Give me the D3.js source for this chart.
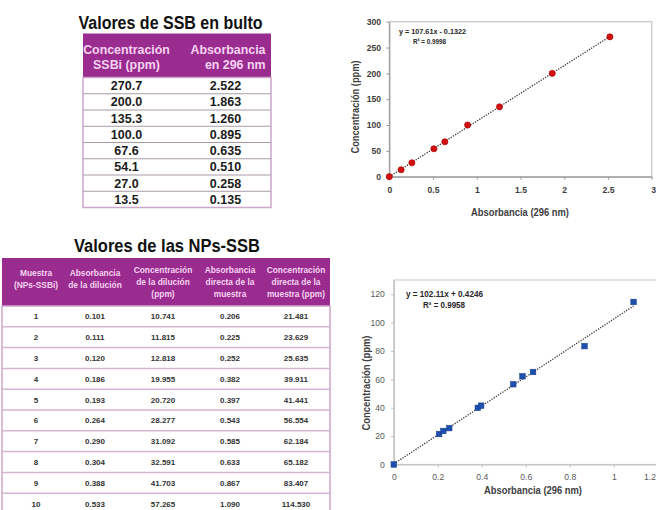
<!DOCTYPE html>
<html>
<head>
<meta charset="utf-8">
<script src="https://cdn.jsdelivr.net/npm/d3@7/dist/d3.min.js"></script>
<style>
  html, body { margin: 0; padding: 0; background: #ffffff; }
  svg { display: block; }
  text { font-family: "Liberation Sans", Arial, sans-serif; }
</style>
</head>
<body>
<svg id="fig" width="656" height="510"></svg>
<script>
// ---- Bulk SSB calibration standards ----
const ssbConc = [270.7, 200.0, 135.3, 100.0, 67.6, 54.1, 27.0, 13.5];
const ssbAbs  = [2.522, 1.863, 1.260, 0.895, 0.635, 0.510, 0.258, 0.135];
const ssbFit  = { slope: 107.61, intercept: -0.1322, r2: "0.9998", eq: "y = 107.61x - 0.1322" };

// ---- NPs-SSB samples ----
const npSample  = ["1", "2", "3", "4", "5", "6", "7", "8", "9", "10"];
const npDilAbs  = [0.101, 0.111, 0.120, 0.186, 0.193, 0.264, 0.290, 0.304, 0.388, 0.533];
const npDilConc = [10.741, 11.815, 12.818, 19.955, 20.720, 28.277, 31.092, 32.591, 41.703, 57.265];
const npDirAbs  = [0.206, 0.225, 0.252, 0.382, 0.397, 0.543, 0.585, 0.633, 0.867, 1.090];
const npDirConc = [21.481, 23.629, 25.635, 39.911, 41.441, 56.554, 62.184, 65.182, 83.407, 114.530];
const npFit     = { slope: 102.11, intercept: 0.4246, r2: "0.9958", eq: "y = 102.11x + 0.4246" };

// blank (origin) point plotted with each calibration set
const blankAbs = 0, blankConc = 0;

// axis ticks
const ssbXTicks = [0, 0.5, 1, 1.5, 2, 2.5, 3];
const ssbYTicks = [0, 50, 100, 150, 200, 250, 300];
const npXTicks  = [0, 0.2, 0.4, 0.6, 0.8, 1, 1.2];
const npYTicks  = [0, 20, 40, 60, 80, 100, 120];

const W = 656;
const svg = d3.select("#fig");
const PURPLE = "#9a2b8f";
const HEAD_TXT = "#f6d3f1";
const LAV = "#cfa6cb";

// ================= Table 1: Valores de SSB en bulto =================
(function () {
  const g = svg.append("g");
  const x0 = 83, x1 = 271, top = 33.5, headB = 77.5, rowH = 16.25;
  g.append("text").attr("x", 170.5).attr("y", 28.5).attr("text-anchor", "middle")
    .attr("font-size", 17.5).attr("font-weight", "bold").attr("fill", "#111")
    .attr("textLength", 184).attr("lengthAdjust", "spacingAndGlyphs")
    .text("Valores de SSB en bulto");
  g.append("rect").attr("x", x0).attr("y", top).attr("width", x1 - x0).attr("height", headB - top)
    .attr("fill", PURPLE);
  const head = [
    { x: 126.5, anchor: "middle", lines: ["Concentración", "SSBi (ppm)"] },
    { x: 265.5, anchor: "end", lines: ["Absorbancia", "en 296 nm"] }
  ];
  head.forEach(h => {
    h.lines.forEach((l, i) => {
      g.append("text").attr("x", h.x).attr("y", 53.5 + i * 15).attr("text-anchor", h.anchor)
        .attr("font-size", 12.4).attr("font-weight", "bold").attr("fill", HEAD_TXT).text(l);
    });
  });
  const rows = ssbConc.map((c, i) => ({ c, a: ssbAbs[i] }));
  const bottom = headB + rows.length * rowH;
  g.append("rect").attr("x", x0).attr("y", headB).attr("width", x1 - x0).attr("height", bottom - headB)
    .attr("fill", "#fff").attr("stroke", LAV).attr("stroke-width", 1.5);
  g.selectAll("line.sep").data(d3.range(1, rows.length)).join("line")
    .attr("x1", x0).attr("x2", x1)
    .attr("y1", i => headB + i * rowH).attr("y2", i => headB + i * rowH)
    .attr("stroke", "#a99aa8").attr("stroke-width", 1);
  const r = g.selectAll("g.row").data(rows).join("g")
    .attr("transform", (d, i) => `translate(0,${headB + i * rowH + rowH / 2 + 4.4})`);
  r.append("text").attr("x", 126.5).attr("text-anchor", "middle").attr("font-size", 12.5)
    .attr("font-weight", "bold").attr("fill", "#1b1b1b").text(d => d.c.toFixed(1));
  r.append("text").attr("x", 225.5).attr("text-anchor", "middle").attr("font-size", 12.5)
    .attr("font-weight", "bold").attr("fill", "#1b1b1b").text(d => d.a.toFixed(3));
})();

// ================= Table 2: Valores de las NPs-SSB =================
(function () {
  const g = svg.append("g");
  const x0 = 2, x1 = 330, top = 258, headB = 306, rowH = 20.8;
  g.append("text").attr("x", 167).attr("y", 252).attr("text-anchor", "middle")
    .attr("font-size", 17.5).attr("font-weight", "bold").attr("fill", "#111")
    .attr("textLength", 186).attr("lengthAdjust", "spacingAndGlyphs")
    .text("Valores de las NPs-SSB");
  g.append("rect").attr("x", x0).attr("y", top).attr("width", x1 - x0).attr("height", headB - top)
    .attr("fill", PURPLE);
  const cols = [36, 95, 163, 230, 296];
  const head = [
    ["Muestra", "(NPs-SSBi)"],
    ["Absorbancia", "de la dilución"],
    ["Concentración", "de la dilución", "(ppm)"],
    ["Absorbancia", "directa de la", "muestra"],
    ["Concentración", "directa de la", "muestra (ppm)"]
  ];
  head.forEach((lines, c) => {
    const y0 = lines.length === 3 ? 273 : 276;
    lines.forEach((l, i) => {
      g.append("text").attr("x", cols[c]).attr("y", y0 + i * 12).attr("text-anchor", "middle")
        .attr("font-size", 8.4).attr("font-weight", "bold").attr("fill", HEAD_TXT).text(l);
    });
  });
  const rows = npSample.map((s, i) => [s, npDilAbs[i].toFixed(3), npDilConc[i].toFixed(3),
                                       npDirAbs[i].toFixed(3), npDirConc[i].toFixed(3)]);
  const bottom = headB + rows.length * rowH;
  g.append("rect").attr("x", x0).attr("y", headB).attr("width", x1 - x0).attr("height", bottom - headB)
    .attr("fill", "#fff").attr("stroke", LAV).attr("stroke-width", 1.5);
  g.selectAll("line.sep").data(d3.range(1, rows.length)).join("line")
    .attr("x1", x0).attr("x2", x1)
    .attr("y1", i => headB + i * rowH).attr("y2", i => headB + i * rowH)
    .attr("stroke", "#d6b4d3").attr("stroke-width", 1.5);
  const r = g.selectAll("g.row").data(rows).join("g")
    .attr("transform", (d, i) => `translate(0,${headB + i * rowH + rowH / 2 + 3})`);
  r.selectAll("text").data(d => d).join("text")
    .attr("x", (d, i) => cols[i]).attr("text-anchor", "middle")
    .attr("font-size", 8).attr("font-weight", "bold").attr("fill", "#333").text(d => d);
})();

// ================= Scatter charts with linear trend =================
function scatter(opt) {
  const g = svg.append("g");
  const x = d3.scaleLinear().domain(opt.xDomain).range([opt.left, opt.right]);
  const y = d3.scaleLinear().domain(opt.yDomain).range([opt.bottom, opt.top]);

  // plot-area frame
  g.append("rect").attr("x", opt.left).attr("y", opt.top)
    .attr("width", opt.right - opt.left).attr("height", opt.bottom - opt.top)
    .attr("fill", "none").attr("stroke", opt.frame).attr("stroke-width", 1.2);

  const fmt = d3.format("~g");
  const xa = g.append("g").attr("transform", `translate(0,${opt.bottom})`)
    .call(d3.axisBottom(x).tickValues(opt.xTicks).tickFormat(fmt).tickSize(3).tickSizeOuter(0).tickPadding(opt.xPad));
  const ya = g.append("g").attr("transform", `translate(${opt.left},0)`)
    .call(d3.axisLeft(y).tickValues(opt.yTicks).tickFormat(fmt).tickSize(3).tickSizeOuter(0).tickPadding(opt.yPad));
  [xa, ya].forEach(a => {
    a.select(".domain").attr("stroke", opt.axis).attr("stroke-width", 1.2);
    a.selectAll(".tick line").attr("stroke", opt.axis);
    a.selectAll(".tick text").attr("font-family", "Liberation Sans, Arial, sans-serif")
      .attr("font-size", 8.6).attr("font-weight", opt.tickWeight).attr("fill", opt.tickColor);
  });
  // keep a tick label that would run past the page edge fully visible
  xa.selectAll(".tick text").each(function (d) {
    if (x(d) + 8 > W) d3.select(this).attr("text-anchor", "end").attr("x", W - 0.5 - x(d));
  });

  // trend line over the data range
  const xmax = d3.max(opt.xs);
  g.append("line")
    .attr("x1", x(0)).attr("y1", y(opt.fit.intercept))
    .attr("x2", x(xmax)).attr("y2", y(opt.fit.slope * xmax + opt.fit.intercept))
    .attr("stroke", "#3a3a3a").attr("stroke-width", 1.3).attr("stroke-dasharray", "1.3,1.3");

  const pts = opt.xs.map((v, i) => [v, opt.ys[i]]);
  if (opt.marker === "circle") {
    g.selectAll("circle.pt").data(pts).join("circle")
      .attr("cx", d => x(d[0])).attr("cy", d => y(d[1])).attr("r", 3.1)
      .attr("fill", opt.color).attr("stroke", opt.stroke).attr("stroke-width", 0.6);
  } else {
    g.selectAll("rect.pt").data(pts).join("rect")
      .attr("x", d => x(d[0]) - 2.8).attr("y", d => y(d[1]) - 2.8)
      .attr("width", 5.6).attr("height", 5.6)
      .attr("fill", opt.color).attr("stroke", opt.stroke).attr("stroke-width", 0.5);
  }

  // regression equation
  g.append("text").attr("x", opt.eq.x).attr("y", opt.eq.y)
    .attr("font-size", opt.eq.size).attr("font-weight", "bold").attr("fill", "#262626")
    .attr("textLength", opt.eq.len).attr("lengthAdjust", "spacingAndGlyphs").text(opt.fit.eq);
  g.append("text").attr("x", opt.eq.rx).attr("y", opt.eq.y + opt.eq.gap)
    .attr("font-size", opt.eq.size).attr("font-weight", "bold").attr("fill", "#262626")
    .attr("textLength", opt.eq.rlen).attr("lengthAdjust", "spacingAndGlyphs").text("R² = " + opt.fit.r2);

  // axis titles
  g.append("text").attr("x", opt.xt.x).attr("y", opt.xt.y).attr("text-anchor", "middle")
    .attr("font-size", 11).attr("font-weight", "bold").attr("fill", "#404040")
    .attr("textLength", opt.xt.len).attr("lengthAdjust", "spacingAndGlyphs")
    .text("Absorbancia (296 nm)");
  g.append("text").attr("transform", `translate(${opt.yt.x},${opt.yt.y}) rotate(-90)`)
    .attr("text-anchor", "middle")
    .attr("font-size", 11).attr("font-weight", "bold").attr("fill", "#404040")
    .attr("textLength", opt.yt.len).attr("lengthAdjust", "spacingAndGlyphs")
    .text("Concentración (ppm)");
}

scatter({
  xDomain: [0, 3], yDomain: [0, 300],
  left: 389.3, right: 651.7, top: 21.7, bottom: 176.7,
  xTicks: ssbXTicks, yTicks: ssbYTicks, xPad: 7.3, yPad: 5.3,
  frame: "#c4c4c4", axis: "#9a9a9a", tickWeight: "bold", tickColor: "#3d3d3d",
  xs: [blankAbs].concat(ssbAbs), ys: [blankConc].concat(ssbConc), fit: ssbFit,
  marker: "circle", color: "#d40f0f", stroke: "#9e0000",
  eq: { x: 399, y: 33.5, rx: 413, gap: 10, size: 7.6, len: 67, rlen: 33 },
  xt: { x: 520, y: 215.5, len: 98 }, yt: { x: 359, y: 107, len: 93 }
});

scatter({
  xDomain: [0, 1.2], yDomain: [0, 130],
  left: 393.8, right: 657.8, top: 280, bottom: 464.5,
  xTicks: npXTicks, yTicks: npYTicks, xPad: 6.3, yPad: 6,
  frame: "#cfcfcf", axis: "#c2c2c2", tickWeight: "normal", tickColor: "#595959",
  xs: [blankAbs].concat(npDirAbs), ys: [blankConc].concat(npDirConc), fit: npFit,
  marker: "square", color: "#1f4fae", stroke: "#163d8a",
  eq: { x: 406, y: 297, rx: 423, gap: 10.5, size: 8.4, len: 77, rlen: 42 },
  xt: { x: 533, y: 494, len: 98 }, yt: { x: 370, y: 383, len: 95 }
});
</script>
</body>
</html>
